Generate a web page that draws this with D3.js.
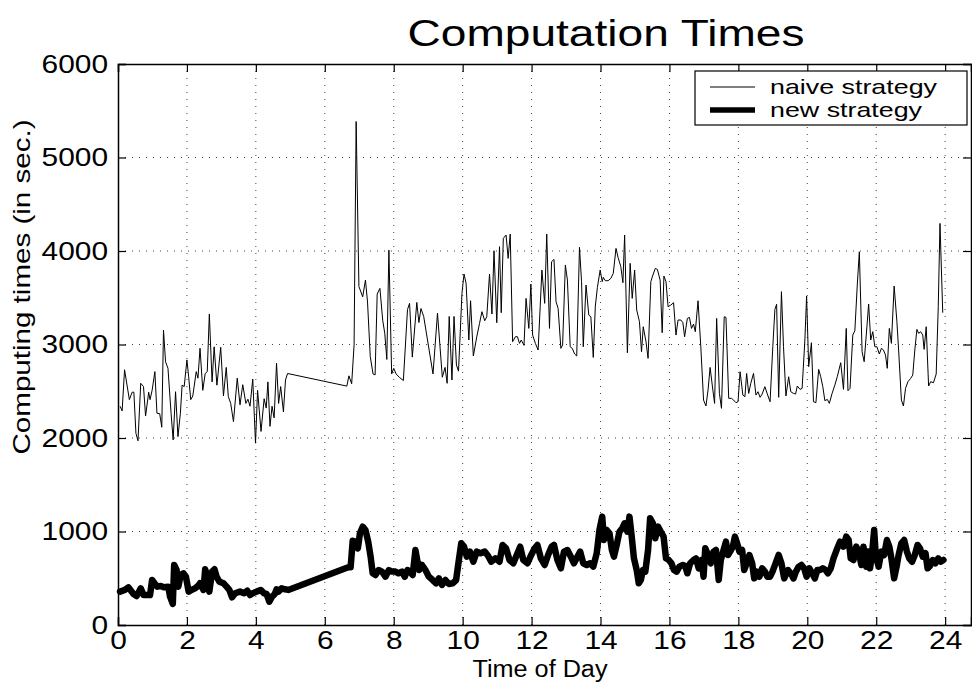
<!DOCTYPE html>
<html>
<head>
<meta charset="utf-8">
<script src="https://cdn.jsdelivr.net/npm/d3@7"></script>
<style>
  body { margin: 0; background: #fff; }
  text { font-family: "Liberation Sans", Arial, Helvetica, sans-serif; fill: #000; }
</style>
</head>
<body>
<script>
// hours of day / seconds
const naiveTimes = [
  0.06,0.12,0.19,0.33,0.41,0.46,0.52,0.58,0.66,0.74,0.80,0.89,0.93,0.99,1.07,1.13,1.21,1.27,1.32,1.38,
  1.45,1.54,1.60,1.67,1.74,1.81,1.86,1.92,2.00,2.05,2.11,2.17,2.27,2.32,2.38,2.46,2.53,2.59,2.65,2.73,
  2.79,2.87,2.98,3.06,3.14,3.20,3.27,3.35,3.46,3.54,3.62,3.71,3.77,3.83,3.91,3.99,4.05,4.15,4.24,4.30,
  4.35,4.41,4.47,4.53,4.60,4.66,4.72,4.80,4.86,4.92,
  6.64,6.70,6.78,6.85,6.91,6.99,7.10,7.18,7.24,7.32,7.40,7.46,7.52,7.60,7.68,7.74,7.80,7.86,7.94,8.00,
  8.07,8.16,8.28,8.40,8.46,8.54,8.67,8.73,8.79,8.87,9.14,9.27,9.41,9.49,9.55,9.61,9.69,9.75,9.82,9.88,
  9.98,10.04,10.10,10.18,10.23,10.31,10.41,10.49,10.56,10.64,10.70,10.78,10.85,10.91,10.99,11.07,11.12,11.18,11.26,11.32,
  11.38,11.45,11.53,11.59,11.65,11.70,11.78,11.84,11.92,11.98,12.03,12.11,12.19,12.25,12.30,12.38,12.44,12.52,12.58,12.65,
  12.71,12.77,12.85,12.90,12.98,13.04,13.12,13.18,13.25,13.31,13.39,13.45,13.50,13.58,13.66,13.72,13.79,13.85,13.91,13.99,
  14.05,14.08,14.14,14.22,14.30,14.37,14.45,14.51,14.59,14.65,14.70,14.78,14.86,14.92,14.99,15.05,15.13,15.19,15.24,15.32,
  15.38,15.46,15.52,15.59,15.65,15.73,15.79,15.84,15.90,15.96,16.04,16.12,16.19,16.25,16.33,16.39,16.44,16.52,16.58,16.64,
  16.70,16.75,16.83,16.91,16.99,17.06,17.12,17.18,17.26,17.31,17.37,17.45,17.51,17.59,17.64,17.72,17.80,17.86,17.93,17.99,
  18.05,18.13,18.19,18.24,18.30,18.36,18.44,18.51,18.57,18.63,18.69,18.77,18.84,18.92,19.00,19.06,19.11,19.17,19.25,19.31,
  19.38,19.46,19.52,19.60,19.66,19.71,19.79,19.85,19.93,19.98,20.04,20.12,20.18,20.25,20.33,20.39,20.45,20.51,20.58,20.64,
  20.72,20.80,20.87,20.97,21.05,21.13,21.18,21.24,21.32,21.38,21.45,21.51,21.59,21.65,21.73,21.78,21.84,21.90,21.96,22.02,
  22.09,22.15,22.21,22.27,22.32,22.38,22.44,22.52,22.60,22.65,22.73,22.79,22.85,22.92,23.00,23.06,23.12,23.18,23.23,23.29,
  23.35,23.39,23.45,23.52,23.58,23.66,23.74,23.80,23.85,23.93
];
const naiveValues = [
  2340,2290,2730,2410,2490,2490,2050,1970,2585,2550,2235,2490,2410,2510,2710,2265,2260,2115,3155,2815,
  2745,2265,1980,2495,2015,2265,2565,2550,2835,2655,2410,2450,2710,2640,2960,2510,2690,2710,3325,2600,
  2975,2565,2970,2450,2755,2445,2370,2175,2640,2355,2570,2370,2415,2340,2630,1945,2510,2070,2420,2320,
  2600,2125,2340,2215,2800,2370,2550,2280,2620,2690,
  2555,2665,2580,2995,5385,3620,3510,3690,3455,2870,2685,2675,3540,3600,3260,3120,2840,4010,2685,2745,
  2685,2650,2615,3375,3440,2865,3450,3235,3385,3300,2685,3335,2650,2755,2585,3300,2620,3300,2780,2715,
  3547,3754,3654,3048,3468,2877,3083,3226,3351,3254,3297,3754,3326,4003,3233,4046,3340,4135,4171,3921,
  4181,3030,3083,3083,3012,3048,2991,3493,3172,3647,3101,3012,2941,3404,3796,3440,4181,3172,3885,3910,
  3458,3386,2959,2994,3850,3689,2976,2959,2898,2877,4039,3672,2976,3636,3315,3297,2862,3411,3611,3796,
  3672,3718,3682,3682,3707,3761,4028,3930,3832,3661,4171,2912,3868,3493,3796,3369,3244,2923,3190,3030,
  2852,3672,3743,3814,3803,3689,3126,3732,3672,3404,3422,3447,3101,3262,3262,3233,3083,3279,3290,3172,
  3219,3137,3468,2976,2406,2342,2513,2755,2513,2370,3279,2477,2317,3297,3290,2424,2424,2406,2378,2388,
  2709,2459,2442,2691,2477,2584,2691,2459,2495,2435,2470,2549,2470,2388,2980,3376,3430,2435,3565,2976,
  2449,2655,2495,2477,2470,2556,2520,2531,3048,3518,2763,3019,2388,2378,2734,2655,2549,2399,2413,2370,
  2477,2566,2655,2805,2520,3172,2506,2531,3101,3147,3636,3992,2923,2816,3190,3433,3048,3137,2976,2976,
  2898,2959,2941,2887,2745,3172,3012,3625,3244,2941,2406,2342,2531,2602,2638,2673,2941,3162,3119,3137,
  3101,2948,3190,2556,2602,2591,2684,3404,4295,3340
];

const newTimes = [
  0.06,0.20,0.30,0.45,0.54,0.66,0.74,0.85,0.93,0.99,1.06,1.14,1.24,1.33,1.46,1.51,1.59,1.63,1.70,1.75,
  1.82,1.90,1.97,2.05,2.13,2.24,2.32,2.38,2.48,2.53,2.59,2.65,2.73,2.80,2.86,2.94,3.06,3.15,3.23,3.31,
  3.40,3.54,3.66,3.75,3.83,3.91,4.02,4.14,4.24,4.31,4.39,4.47,4.55,4.60,4.66,4.75,4.85,4.94,
  6.68,6.75,6.81,6.89,6.96,7.02,7.10,7.18,7.26,7.33,7.39,7.47,7.56,7.66,7.76,7.86,7.95,8.05,8.14,8.24,
  8.32,8.40,8.47,8.55,8.63,8.69,8.74,8.82,8.92,9.02,9.13,9.23,9.31,9.40,9.50,9.60,9.71,9.81,9.89,9.96,
  10.04,10.12,10.21,10.31,10.41,10.52,10.64,10.74,10.83,10.95,11.07,11.16,11.26,11.36,11.47,11.57,11.67,11.76,11.88,11.99,
  12.09,12.17,12.27,12.38,12.48,12.58,12.65,12.75,12.85,12.94,13.04,13.14,13.23,13.33,13.41,13.50,13.60,13.70,13.79,13.89,
  13.97,14.05,14.10,14.18,14.26,14.33,14.39,14.47,14.55,14.63,14.70,14.78,14.84,14.90,14.97,15.05,15.11,15.17,15.23,15.30,
  15.38,15.44,15.52,15.59,15.67,15.75,15.83,15.90,15.98,16.06,16.13,16.21,16.29,16.39,16.46,16.52,16.60,16.70,16.77,16.85,
  16.93,16.99,17.04,17.12,17.20,17.28,17.35,17.43,17.49,17.57,17.64,17.70,17.76,17.84,17.90,17.95,18.03,18.11,18.17,18.24,
  18.32,18.40,18.46,18.53,18.61,18.69,18.77,18.84,18.92,18.99,19.08,19.17,19.25,19.33,19.44,19.52,19.60,19.67,19.75,19.83,
  19.91,19.98,20.06,20.14,20.22,20.29,20.37,20.45,20.53,20.60,20.68,20.76,20.85,20.95,21.05,21.13,21.20,21.26,21.34,21.42,
  21.49,21.57,21.63,21.71,21.76,21.82,21.88,21.94,21.99,22.07,22.15,22.23,22.31,22.38,22.44,22.52,22.60,22.65,22.73,22.81,
  22.89,22.96,23.04,23.12,23.20,23.27,23.35,23.43,23.49,23.56,23.64,23.72,23.80,23.87,23.95
];
const newValues = [
  357,375,403,332,310,392,321,321,321,481,446,410,417,403,410,303,225,642,588,410,
  535,553,517,357,375,392,417,446,375,596,517,357,571,596,517,464,446,410,375,296,
  339,357,339,367,321,339,357,375,339,332,250,303,332,382,357,392,382,375,
  617,617,900,891,820,981,1052,1016,891,731,553,535,588,571,517,588,571,571,553,571,
  517,588,571,535,802,677,588,642,588,517,481,446,499,428,481,439,446,481,695,874,
  838,731,785,677,785,767,785,738,677,713,677,856,820,695,660,749,838,695,660,749,
  820,856,713,642,749,838,856,695,606,785,802,731,660,731,785,660,642,660,624,767,
  1016,1159,909,1016,981,802,731,856,998,1034,1088,998,1159,963,713,588,446,481,588,571,
  802,1141,1088,927,1052,998,945,713,695,660,588,571,624,642,631,553,660,695,713,606,
  695,517,820,749,660,785,802,481,695,802,891,749,785,838,945,891,785,802,588,660,
  749,660,499,571,517,606,571,517,517,571,660,749,660,499,588,553,499,571,624,642,
  606,517,606,553,499,588,588,606,588,553,606,713,802,891,838,945,909,713,695,838,
  785,642,838,624,785,606,767,1016,731,624,785,749,909,838,713,499,642,749,874,909,
  785,713,677,749,856,820,731,767,606,631,695,660,713,677,695
];

const xTicks = [0, 2, 4, 6, 8, 10, 12, 14, 16, 18, 20, 22, 24];
const yTicks = [0, 1000, 2000, 3000, 4000, 5000, 6000];
const seriesNames = ["naive strategy", "new strategy"];

const width = 972, height = 682;
const plotLeft = 118, plotRight = 971, plotTop = 64, plotBottom = 625;

const svg = d3.select("body").append("svg")
  .attr("width", width).attr("height", height);

const x = d3.scaleLinear().domain([0, 24.75]).range([plotLeft, plotRight]);
const y = d3.scaleLinear().domain([0, 6000]).range([plotBottom, plotTop]);

// dotted grid
const grid = svg.append("g").attr("class", "grid")
  .style("stroke", "#444").style("stroke-width", 1).style("stroke-dasharray", "1,6");
grid.selectAll(".vx").data(xTicks.filter(d => d > 0)).enter().append("line")
  .attr("x1", d => x(d)).attr("x2", d => x(d)).attr("y1", plotTop).attr("y2", plotBottom);
grid.selectAll(".hy").data(yTicks.filter(d => d > 0 && d < 6000)).enter().append("line")
  .attr("x1", plotLeft).attr("x2", plotRight).attr("y1", d => y(d)).attr("y2", d => y(d));

// lines
const line = d3.line().x(d => x(d[0])).y(d => y(d[1]));
const naivePts = naiveTimes.map((t, i) => [t, naiveValues[i]]);
const newPts = newTimes.map((t, i) => [t, newValues[i]]);

svg.append("path").datum(naivePts)
  .attr("d", line).attr("fill", "none").attr("stroke", "#000").attr("stroke-width", 1);
svg.append("path").datum(newPts)
  .attr("d", line).attr("fill", "none").attr("stroke", "#000")
  .attr("stroke-width", 6.5).attr("stroke-linejoin", "round").attr("stroke-linecap", "round");

// axes (ticks inside, box all round)
const tickLen = 8;
const bottomAxis = svg.append("g").attr("transform", `translate(0,${plotBottom})`)
  .call(d3.axisBottom(x).tickValues(xTicks).tickSize(-tickLen).tickPadding(6).tickFormat(d3.format("d")));
const topAxis = svg.append("g").attr("transform", `translate(0,${plotTop})`)
  .call(d3.axisTop(x).tickValues(xTicks).tickSize(-tickLen).tickFormat(""));
const leftAxis = svg.append("g").attr("transform", `translate(${plotLeft},0)`)
  .call(d3.axisLeft(y).tickValues(yTicks).tickSize(-tickLen).tickPadding(10).tickFormat(d3.format("d")));
const rightAxis = svg.append("g").attr("transform", `translate(${plotRight},0)`)
  .call(d3.axisRight(y).tickValues(yTicks).tickSize(-tickLen).tickFormat(""));

[bottomAxis, topAxis, leftAxis, rightAxis].forEach(a => {
  a.select(".domain").attr("stroke", "#000").attr("stroke-width", 1.5);
  a.selectAll(".tick line").attr("stroke", "#000").attr("stroke-width", 1.2);
});

bottomAxis.selectAll(".tick text")
  .style("font-size", "26px").attr("dy", "0.71em")
  .attr("text-anchor", "middle")
  .attr("transform", "scale(1.15,1)");
leftAxis.selectAll(".tick text")
  .style("font-size", "26px")
  .attr("x", -10 / 1.15).attr("transform", "scale(1.15,1)");

// title and axis labels
svg.append("text").attr("x", 606).attr("y", 46)
  .attr("text-anchor", "middle").style("font-size", "37px")
  .attr("textLength", 397).attr("lengthAdjust", "spacingAndGlyphs")
  .text("Computation Times");

svg.append("text").attr("x", 540).attr("y", 677)
  .attr("text-anchor", "middle").style("font-size", "23px")
  .attr("textLength", 135).attr("lengthAdjust", "spacingAndGlyphs")
  .text("Time of Day");

svg.append("text")
  .attr("transform", "translate(30,287) rotate(-90)")
  .attr("text-anchor", "middle").style("font-size", "24px")
  .attr("textLength", 335).attr("lengthAdjust", "spacingAndGlyphs")
  .text("Computing times (in sec.)");

// legend
const legend = svg.append("g").attr("transform", "translate(695,71)");
legend.append("rect").attr("width", 272).attr("height", 54)
  .attr("fill", "#fff").attr("stroke", "#000").attr("stroke-width", 1.2);
const legendRows = legend.selectAll(".row").data(seriesNames).enter().append("g")
  .attr("transform", (d, i) => `translate(0,${16 + i * 23})`);
legendRows.append("line").attr("x1", 15).attr("x2", 60)
  .attr("stroke", "#000").attr("stroke-width", (d, i) => i === 0 ? 1 : 5.5);
legendRows.append("text").attr("x", 75).attr("dy", "0.35em")
  .style("font-size", "21px")
  .attr("textLength", (d, i) => i === 0 ? 167 : 152).attr("lengthAdjust", "spacingAndGlyphs")
  .text(d => d);
</script>
</body>
</html>
